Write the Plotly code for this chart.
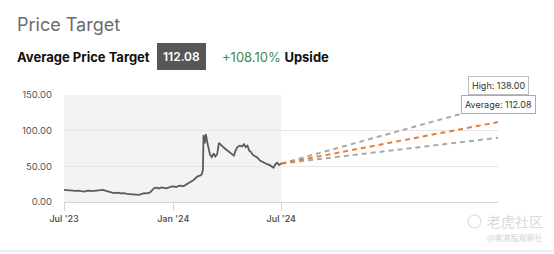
import plotly.graph_objects as go

# ---- data ----
price_dates = [
    "2023-07-01", "2023-07-05", "2023-07-10", "2023-07-15", "2023-07-20", "2023-07-25", "2023-07-30",
    "2023-08-04", "2023-08-08", "2023-08-12", "2023-08-17", "2023-08-22", "2023-08-27", "2023-09-01",
    "2023-09-05", "2023-09-10", "2023-09-15", "2023-09-20", "2023-09-25", "2023-09-30", "2023-10-05",
    "2023-10-10", "2023-10-15", "2023-10-20", "2023-10-25", "2023-10-30", "2023-11-04", "2023-11-08",
    "2023-11-13", "2023-11-18", "2023-11-23", "2023-11-27", "2023-11-30", "2023-12-04", "2023-12-08",
    "2023-12-12", "2023-12-16", "2023-12-20", "2023-12-24", "2023-12-28", "2024-01-02", "2024-01-06",
    "2024-01-10", "2024-01-14", "2024-01-18", "2024-01-22", "2024-01-26", "2024-01-30", "2024-02-03",
    "2024-02-07", "2024-02-11", "2024-02-15", "2024-02-18", "2024-02-20", "2024-02-21", "2024-02-23",
    "2024-02-25", "2024-02-27", "2024-03-01", "2024-03-03", "2024-03-06", "2024-03-09", "2024-03-12",
    "2024-03-15", "2024-03-18", "2024-03-21", "2024-03-24", "2024-03-28", "2024-04-01", "2024-04-05",
    "2024-04-09", "2024-04-12", "2024-04-15", "2024-04-18", "2024-04-22", "2024-04-26", "2024-04-29",
    "2024-05-02", "2024-05-05", "2024-05-08", "2024-05-11", "2024-05-14", "2024-05-18", "2024-05-22",
    "2024-05-26", "2024-05-30", "2024-06-03", "2024-06-07", "2024-06-11", "2024-06-15", "2024-06-18",
    "2024-06-21", "2024-06-24", "2024-06-27", "2024-07-01",
]
price_values = [
    17, 16.5, 16.8, 16, 15.5, 15.8, 15,
    14.5, 15.5, 16, 15.2, 15.6, 15.3, 16.5,
    17, 15.5, 14, 13, 12.5, 13, 12,
    12.5, 11.5, 11, 11.5, 10.5, 10, 11,
    12.5, 12, 13.5, 17, 19.5, 20, 19,
    20.5, 20, 19.2, 20, 21.5, 22, 21,
    22.5, 23, 22, 24, 25, 27, 30,
    33, 36, 37, 38.5, 45, 94, 82,
    95, 85, 72, 66, 63, 68, 64,
    67, 83, 80, 78, 75, 72, 70,
    66, 65, 72, 77, 79, 78, 81,
    77, 79, 72, 70, 66, 64, 62,
    58, 56, 54, 53, 52, 50, 48,
    53, 55, 52, 53.85,
]

target_dates = ["2024-07-01", "2025-07-01"]
current_price = 53.85
target_high = 138.00
target_avg = 112.08
target_low = 90.0

header_title = "Price Target"
header_label = "Average Price Target"
header_value = "112.08"
header_upside = "+108.10%"
header_upside_word = "Upside"

y_ticks = [0, 50, 100, 150]
x_ticks = ["2023-07-01", "2024-01-01", "2024-07-01"]
x_tick_labels = ["Jul '23", "Jan '24", "Jul '24"]

# ---- layout geometry (pixels) ----
W, H = 554, 254
L, R, T, B = 64, 498, 95, 202


def px(xp):
    return (xp - L) / (R - L)


def py(yp):
    return (B - yp) / (B - T)


FONT = "Inter, Roboto, Arial, sans-serif"

fig = go.Figure()

fig.add_trace(go.Scatter(
    x=price_dates, y=price_values, mode="lines",
    line=dict(color="#5b5b5b", width=1.8), hoverinfo="skip", showlegend=False,
))

for val, col in [(target_high, "#a9a9a9"), (target_low, "#a9a9a9"), (target_avg, "#ea7f33")]:
    fig.add_trace(go.Scatter(
        x=target_dates, y=[current_price, val], mode="lines",
        line=dict(color=col, width=2, dash="5px,4px"), hoverinfo="skip", showlegend=False,
    ))

shapes = [
    dict(type="rect", xref="x", yref="y", x0="2023-07-01", x1="2024-07-01", y0=0, y1=150,
         fillcolor="#f2f3f5", line=dict(width=0), layer="below"),
    dict(type="line", xref="paper", yref="paper", x0=px(0), x1=px(W), y0=py(251), y1=py(251),
         line=dict(color="#efefef", width=2)),
    dict(type="circle", xref="paper", yref="paper", x0=px(468), x1=px(481), y0=py(228), y1=py(215),
         line=dict(color="#dcdcdc", width=1.2)),
]

annotations = [
    dict(xref="paper", yref="paper", x=px(15), y=py(25), xanchor="left", yanchor="middle",
         text=header_title, showarrow=False, font=dict(family=FONT, size=18, color="#6b6b6b")),
    dict(xref="paper", yref="paper", x=px(15), y=py(57), xanchor="left", yanchor="middle",
         text="<b>" + header_label + "</b>", showarrow=False, font=dict(family=FONT, size=13, color="#111")),
    dict(xref="paper", yref="paper", x=px(181), y=py(57), xanchor="center", yanchor="middle",
         text=header_value, showarrow=False, bgcolor="#575757", borderpad=5, bordercolor="#575757",
         font=dict(family=FONT, size=12, color="white", weight=600)),
    dict(xref="paper", yref="paper", x=px(220), y=py(57), xanchor="left", yanchor="middle",
         text="<span style='color:#3c8c4e'>" + header_upside + "</span> <b>" + header_upside_word + "</b>",
         showarrow=False, font=dict(family=FONT, size=13, color="#111")),
    dict(x=target_dates[1], y=target_high, xref="x", yref="y", xanchor="center", yanchor="bottom",
         yshift=9, text="High: %.2f" % target_high, showarrow=False, bgcolor="white",
         bordercolor="#bdbdbd", borderwidth=1, borderpad=3,
         font=dict(family=FONT, size=9, color="#333")),
    dict(x=target_dates[1], y=target_avg, xref="x", yref="y", xanchor="center", yanchor="bottom",
         yshift=8, text="Average: %.2f" % target_avg, showarrow=False, bgcolor="white",
         bordercolor="#ea9a5e", borderwidth=1, borderpad=3,
         font=dict(family=FONT, size=9, color="#333")),
    dict(xref="paper", yref="paper", x=px(545), y=py(221), xanchor="right", yanchor="middle",
         text="老虎社区", showarrow=False, font=dict(family="Noto Sans CJK SC", size=14, color="#dadada")),
    dict(xref="paper", yref="paper", x=px(545), y=py(237), xanchor="right", yanchor="middle",
         text="@美港股观察社", showarrow=False, font=dict(family="Noto Sans CJK SC", size=8, color="#d3d3d3")),
]

fig.update_layout(
    width=W, height=H,
    margin=dict(l=L, r=W - R, t=T, b=H - B, pad=0),
    paper_bgcolor="white", plot_bgcolor="white",
    shapes=shapes, annotations=annotations,
    showlegend=False,
    xaxis=dict(
        range=["2023-07-01", "2025-07-01"], type="date",
        tickvals=x_ticks, ticktext=x_tick_labels,
        showgrid=False, zeroline=False, showline=False,
        ticks="outside", ticklen=8, tickcolor="#d5d5d5", tickwidth=1,
        tickfont=dict(family=FONT, size=9, color="#444", weight=500),
        fixedrange=True,
    ),
    yaxis=dict(
        range=[0, 150], tickvals=y_ticks, ticktext=["%.2f" % v for v in y_ticks],
        showgrid=True, gridcolor="#e6e6e6", gridwidth=1,
        zeroline=True, zerolinecolor="#d5d5d5", zerolinewidth=1,
        showline=False, ticks="", ticklabelstandoff=11,
        tickfont=dict(family=FONT, size=9.5, color="#555"),
        fixedrange=True,
    ),
)

fig.write_html("out.html")
